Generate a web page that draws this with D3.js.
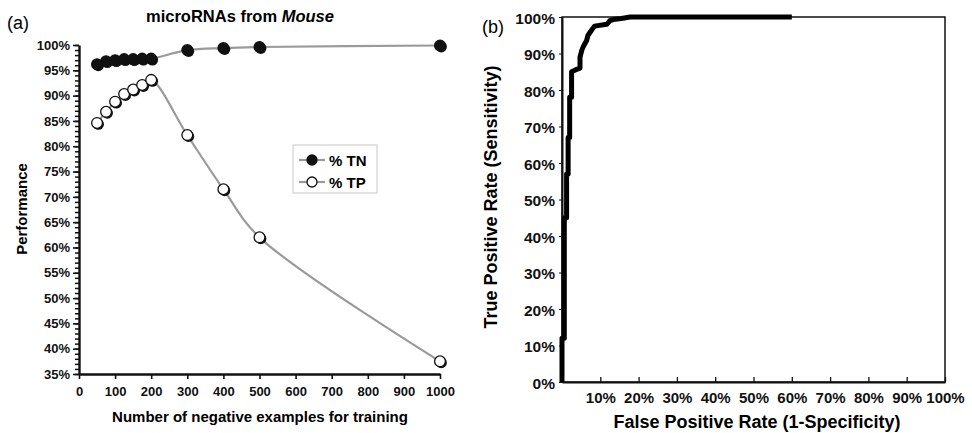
<!DOCTYPE html>
<html>
<head>
<meta charset="utf-8">
<script src="https://cdn.jsdelivr.net/npm/d3@7"></script>
<style>
  body { margin: 0; background: #fff; }
  svg { font-family: "Liberation Sans", Arial, sans-serif; }
  .axis text { font-weight: bold; fill: #111; }
  .axis path, .axis line { stroke: #111; }
</style>
</head>
<body>
<svg id="chart" width="972" height="433"></svg>
<script>
// (a) performance vs number of negative training examples
var trainSizes = [50, 75, 100, 125, 150, 175, 200, 300, 400, 500, 1000];
var pctTN = [96.2, 96.8, 97.0, 97.2, 97.2, 97.3, 97.3, 99.0, 99.4, 99.6, 99.9];
var pctTP = [84.6, 86.8, 88.8, 90.3, 91.2, 92.1, 93.1, 82.2, 71.5, 62.0, 37.5];
var perfTicks = [35, 40, 45, 50, 55, 60, 65, 70, 75, 80, 85, 90, 95, 100];
var sizeTicks = [0, 100, 200, 300, 400, 500, 600, 700, 800, 900, 1000];

// (b) ROC curve
var rocFPR = [0, 0, 0.6, 0.6, 1.2, 1.2, 1.6, 1.6, 2.0, 2.0, 2.5, 2.5, 3.5, 4.7, 4.7, 5.2, 5.6, 6.4, 6.8, 7.8, 8.5, 11.7, 12.5, 13.4, 15.5, 17.8, 60];
var rocTPR = [0, 12, 12, 45, 45, 57, 57, 67, 67, 78, 78, 85, 85.5, 86, 89, 91, 92, 93.5, 95, 96.5, 97.5, 98, 99, 99.3, 99.6, 100, 100];
var rateTicks = [0, 10, 20, 30, 40, 50, 60, 70, 80, 90, 100];

var svg = d3.select("#chart");

//---------------- panel (a) ----------------
var xA = d3.scaleLinear().domain([0, 1000]).range([79, 440]);
var yA = d3.scaleLinear().domain([35, 100]).range([374, 45]);

// minor ticks every 1%
svg.append("g")
    .attr("class", "axis")
    .attr("transform", "translate(79,0)")
    .call(d3.axisLeft(yA).tickValues(d3.range(35, 101, 1)).tickSize(4).tickFormat(""))
    .call(function (g) { g.select(".domain").remove(); })
    .selectAll("line").attr("stroke-width", 1.5);

var yAxisA = svg.append("g")
    .attr("class", "axis")
    .attr("transform", "translate(79,0)")
    .call(d3.axisLeft(yA).tickValues(perfTicks).tickSize(6).tickSizeOuter(0).tickPadding(3)
        .tickFormat(function (d) { return d + "%"; }));
yAxisA.select(".domain").attr("stroke-width", 2.4);
yAxisA.selectAll("line").attr("stroke-width", 1.6);
yAxisA.selectAll("text").attr("font-size", "13px");

var xAxisA = svg.append("g")
    .attr("class", "axis")
    .attr("transform", "translate(0,374)")
    .call(d3.axisBottom(xA).tickValues(sizeTicks).tickSize(5).tickSizeOuter(0).tickPadding(8)
        .tickFormat(d3.format("d")));
xAxisA.select(".domain").attr("stroke-width", 2.4);
xAxisA.selectAll("line").attr("stroke-width", 1.6);
xAxisA.selectAll("text").attr("font-size", "13px");

svg.append("text")
    .attr("x", 240).attr("y", 22)
    .attr("text-anchor", "middle")
    .attr("font-size", "16.5px").attr("font-weight", "bold")
    .text("microRNAs from ")
    .append("tspan").attr("font-style", "italic").text("Mouse");

svg.append("text")
    .attr("x", 7).attr("y", 29)
    .attr("font-size", "18px")
    .text("(a)");

svg.append("text")
    .attr("transform", "translate(27,209) rotate(-90)")
    .attr("text-anchor", "middle")
    .attr("font-size", "15px").attr("font-weight", "bold")
    .text("Performance");

svg.append("text")
    .attr("x", 260).attr("y", 422)
    .attr("text-anchor", "middle")
    .attr("font-size", "15px").attr("font-weight", "bold")
    .text("Number of negative examples for training");

var lineA = d3.line()
    .x(function (d, i) { return xA(trainSizes[i]); })
    .y(function (d) { return yA(d); })
    .curve(d3.curveCatmullRom);

function drawSeries(values, fill) {
    svg.append("path")
        .attr("d", lineA(values))
        .attr("fill", "none")
        .attr("stroke", "#9a9a9a")
        .attr("stroke-width", 2.2);
    var g = svg.append("g");
    values.forEach(function (d, i) {
        g.append("circle")
            .attr("cx", xA(trainSizes[i]) + 1.3).attr("cy", yA(d) + 1.3)
            .attr("r", 5.6).attr("fill", "#111");
        g.append("circle")
            .attr("cx", xA(trainSizes[i])).attr("cy", yA(d))
            .attr("r", 5.4).attr("fill", fill)
            .attr("stroke", "#111").attr("stroke-width", 1.3);
    });
}
drawSeries(pctTN, "#111");
drawSeries(pctTP, "#fff");

// legend
var legend = svg.append("g").attr("transform", "translate(293,145)");
legend.append("rect")
    .attr("width", 84).attr("height", 48)
    .attr("fill", "#fff").attr("stroke", "#c8c8c8").attr("stroke-width", 1);
[["% TN", "#111"], ["% TP", "#fff"]].forEach(function (item, i) {
    var cy = 15 + i * 22;
    legend.append("line")
        .attr("x1", 6).attr("x2", 32).attr("y1", cy).attr("y2", cy)
        .attr("stroke", "#9a9a9a").attr("stroke-width", 2.2);
    legend.append("circle")
        .attr("cx", 19).attr("cy", cy).attr("r", 5)
        .attr("fill", item[1]).attr("stroke", "#111").attr("stroke-width", 1.3);
    legend.append("text")
        .attr("x", 36).attr("y", cy + 5.5)
        .attr("font-size", "15px").attr("font-weight", "bold")
        .text(item[0]);
});

//---------------- panel (b) ----------------
var xB = d3.scaleLinear().domain([0, 100]).range([562, 945]);
var yB = d3.scaleLinear().domain([0, 100]).range([382, 17]);

svg.append("rect")
    .attr("x", 562).attr("y", 17)
    .attr("width", 945 - 562).attr("height", 382 - 17)
    .attr("fill", "none").attr("stroke", "#111").attr("stroke-width", 1.5);

var xAxisB = svg.append("g")
    .attr("class", "axis")
    .attr("transform", "translate(0,382)")
    .call(d3.axisBottom(xB).tickValues(rateTicks.slice(1)).tickSize(-5).tickSizeOuter(0).tickPadding(10)
        .tickFormat(function (d) { return d + "%"; }));
xAxisB.select(".domain").attr("stroke-width", 2);
xAxisB.selectAll("line").attr("stroke-width", 1.3);
xAxisB.selectAll("text").attr("font-size", "15px");

var yAxisB = svg.append("g")
    .attr("class", "axis")
    .attr("transform", "translate(562,0)")
    .call(d3.axisLeft(yB).tickValues(rateTicks).tickSize(3).tickSizeOuter(0).tickPadding(4)
        .tickFormat(function (d) { return d + "%"; }));
yAxisB.select(".domain").attr("stroke-width", 2);
yAxisB.selectAll("line").attr("stroke-width", 1);
yAxisB.selectAll("text").attr("font-size", "15.5px").attr("dy", "0.4em");

svg.append("text")
    .attr("x", 482).attr("y", 33)
    .attr("font-size", "18px")
    .text("(b)");

svg.append("text")
    .attr("transform", "translate(497,197) rotate(-90)")
    .attr("text-anchor", "middle")
    .attr("font-size", "18px").attr("font-weight", "bold")
    .text("True Positive Rate (Sensitivity)");

svg.append("text")
    .attr("x", 757).attr("y", 428)
    .attr("text-anchor", "middle")
    .attr("font-size", "18px").attr("font-weight", "bold")
    .text("False Positive Rate (1-Specificity)");

var rocLine = d3.line()
    .x(function (d, i) { return xB(rocFPR[i]); })
    .y(function (d) { return yB(d); });

svg.append("path")
    .attr("d", rocLine(rocTPR))
    .attr("fill", "none")
    .attr("stroke", "#000")
    .attr("stroke-width", 5)
    .attr("stroke-linejoin", "round");
</script>
</body>
</html>
